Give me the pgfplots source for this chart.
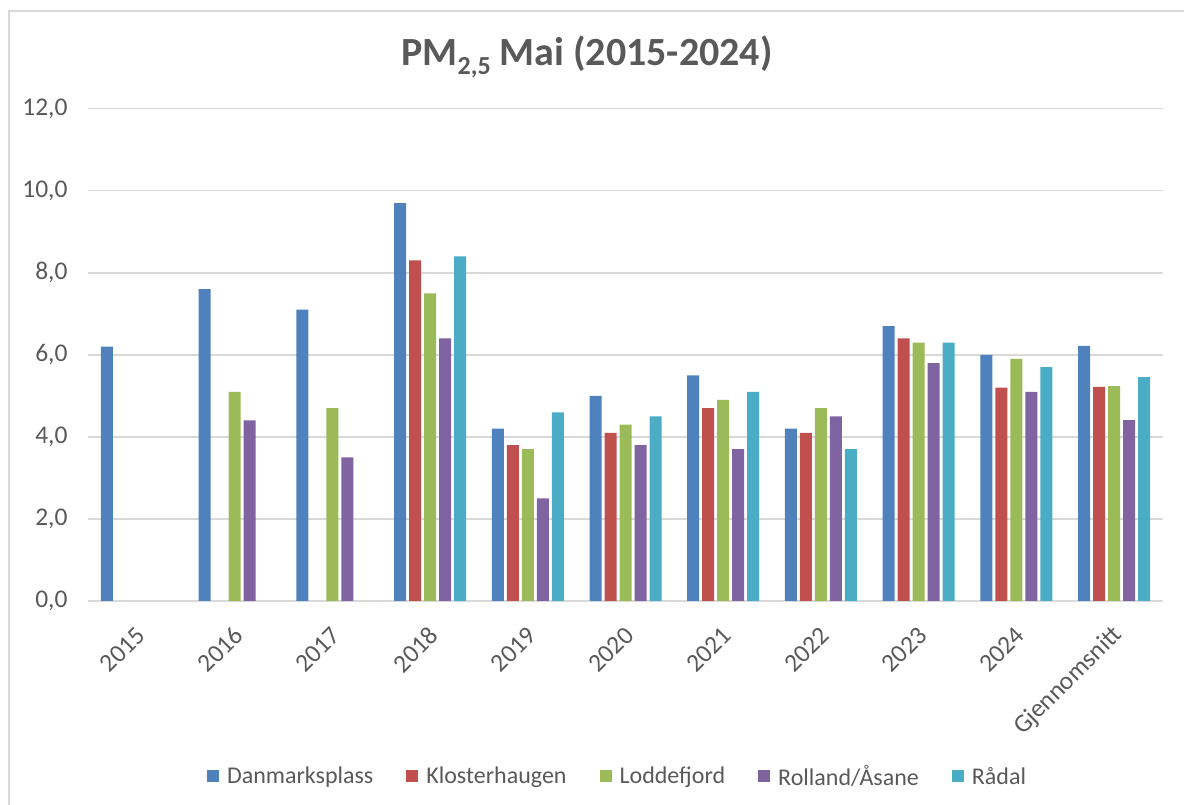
\documentclass[border=0pt]{standalone}
\usepackage{pgfplots}
\pgfplotsset{compat=1.18}
\usepackage{fontspec}
\setmainfont{Carlito}
\definecolor{cD}{HTML}{4F81BD}
\definecolor{cK}{HTML}{C0504D}
\definecolor{cL}{HTML}{9BBB59}
\definecolor{cR}{HTML}{8064A2}
\definecolor{cA}{HTML}{4BACC6}
\definecolor{gridc}{HTML}{D9D9D9}
\definecolor{txt}{HTML}{595959}
\begin{document}
\begin{tikzpicture}
\useasboundingbox (0,0) rectangle (1184bp,805bp);
\draw[gridc, line width=1.5bp] (9bp,-20bp) |- (1210bp,794bp);
\node[txt, font=\fontsize{40bp}{46bp}\selectfont\bfseries] at (587bp,748bp)
  {PM\raisebox{-0.22em}{\fontsize{26bp}{30bp}\selectfont 2,5} Mai (2015-2024)};
\begin{axis}[
  at={(88bp,204bp)}, anchor=south west,
  scale only axis, width=1075bp, height=492.3bp,
  xmin=-0.5, xmax=10.5, ymin=0, ymax=12,
  ytick={0,2,4,6,8,10,12},
  xtick={0,...,10},
  xticklabels={2015,2016,2017,2018,2019,2020,2021,2022,2023,2024,Gjennomsnitt},
  ybar=3bp, bar width=12bp,
  axis x line*=bottom, axis y line*=left,
  y axis line style={draw=none},
  x axis line style={draw=gridc, line width=2bp, -},
  tick style={draw=none},
  ymajorgrids, major grid style={draw=gridc, line width=1.5bp},
  every tick label/.append style={text=txt, font=\fontsize{25.5bp}{30bp}\selectfont},
  yticklabel style={xshift=-17bp},
  xticklabel style={inner sep=0pt, xshift=4bp, yshift=-26bp, rotate=45, anchor=east},
  /pgf/number format/.cd, use comma, fixed, fixed zerofill, precision=1, assume math mode=true,
  /pgfplots/.cd,
  legend columns=5,
  legend style={at={(0.4926,-0.356)}, anchor=center, draw=none, fill=none,
    text=txt, font=\fontsize{24bp}{28bp}\selectfont,
    /tikz/every odd column/.append style={column sep=6bp},
    /tikz/every even column/.append style={column sep=31bp},
    inner sep=0pt},
  legend image code/.code={\fill[#1, draw=none] (0bp,-6bp) rectangle (12bp,6bp);},
]
\addplot[fill=cD, draw=none] coordinates {(0,6.2)(1,7.6)(2,7.1)(3,9.7)(4,4.2)(5,5.0)(6,5.5)(7,4.2)(8,6.7)(9,6.0)(10,6.22)};
\addplot[fill=cK, draw=none] coordinates {(3,8.3)(4,3.8)(5,4.1)(6,4.7)(7,4.1)(8,6.4)(9,5.2)(10,5.22)};
\addplot[fill=cL, draw=none] coordinates {(1,5.1)(2,4.7)(3,7.5)(4,3.7)(5,4.3)(6,4.9)(7,4.7)(8,6.3)(9,5.9)(10,5.24)};
\addplot[fill=cR, draw=none] coordinates {(1,4.4)(2,3.5)(3,6.4)(4,2.5)(5,3.8)(6,3.7)(7,4.5)(8,5.8)(9,5.1)(10,4.41)};
\addplot[fill=cA, draw=none] coordinates {(3,8.4)(4,4.6)(5,4.5)(6,5.1)(7,3.7)(8,6.3)(9,5.7)(10,5.46)};
\legend{Danmarksplass,Klosterhaugen,Loddefjord,Rolland/Åsane,Rådal}
\end{axis}
\end{tikzpicture}
\end{document}
